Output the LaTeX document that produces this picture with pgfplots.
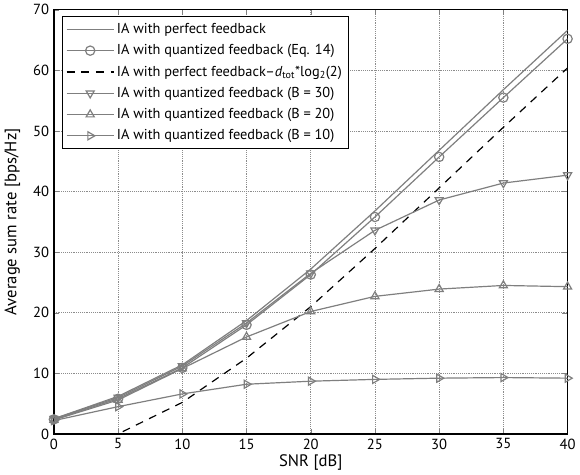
\documentclass[border=0pt]{standalone}
\usepackage{fontspec}
\setmainfont{PT Sans}
\usepackage{pgfplots}
\pgfplotsset{compat=1.18}
\definecolor{lgray}{HTML}{7F7F7F}

\begin{document}
\begin{tikzpicture}
\begin{axis}[
  width=386pt, height=318.75pt, scale only axis,
  xmin=0, xmax=40, ymin=0, ymax=70,
  xtick={0,5,...,40}, ytick={0,10,...,70},
  xlabel={SNR [dB]}, ylabel={Average sum rate [bps/Hz]},
  label style={font=\fontsize{12.5}{14}\selectfont},
  tick label style={font=\fontsize{11}{12}\selectfont},
  /pgf/number format/assume math mode=true,
  xlabel style={yshift=3pt}, ylabel style={yshift=3pt},
  tick align=inside, major tick length=4pt,
  axis line style={line width=1pt},
  grid=major, major grid style={densely dotted, black!45, line width=0.5pt},
  legend cell align=left,
  legend style={at={(0.015,0.985)}, anchor=north west, font=\fontsize{10.8}{12.5}\selectfont,
    draw=black, line width=0.8pt, row sep=2.8pt, inner sep=3pt},
  legend image code/.code={\draw[mark repeat=2,mark phase=2] plot coordinates {(0cm,0cm)(0.62cm,0cm)(1.24cm,0cm)};},
  every axis plot/.append style={line width=0.9pt, mark size=3.5pt, mark options={solid, fill=white}},
  clip=true,
]
\addplot[lgray] coordinates {(0,2.5)(5,6.2)(10,11.4)(15,18.7)(20,27.2)(25,36.8)(30,46.8)(35,56.8)(40,66.6)};
\addlegendentry{IA with perfect feedback}
\addplot[lgray, mark=o] coordinates {(0,2.4)(5,5.8)(10,10.9)(15,18.0)(20,26.3)(25,35.8)(30,45.7)(35,55.5)(40,65.2)};
\addlegendentry{IA with quantized feedback (Eq. 14)}
\addplot[black, dashed, dash pattern=on 6pt off 5pt] coordinates {(0,-3.7)(5,0)(10,5.2)(15,12.5)(20,21.0)(25,30.6)(30,40.6)(35,50.6)(40,60.4)};
\addlegendentry{IA with perfect feedback--\textit{d}\textsubscript{tot}*log\textsubscript{2}(2)}
\addplot[lgray, mark=triangle, mark options={rotate=180}] coordinates {(0,2.5)(5,6.0)(10,11.2)(15,18.3)(20,26.5)(25,33.6)(30,38.6)(35,41.4)(40,42.7)};
\addlegendentry{IA with quantized feedback (B = 30)}
\addplot[lgray, mark=triangle] coordinates {(0,2.3)(5,5.6)(10,10.8)(15,16.0)(20,20.2)(25,22.7)(30,23.9)(35,24.5)(40,24.3)};
\addlegendentry{IA with quantized feedback (B = 20)}
\addplot[lgray, mark=triangle, mark options={rotate=-90}] coordinates {(0,2.2)(5,4.5)(10,6.6)(15,8.2)(20,8.7)(25,9.0)(30,9.2)(35,9.3)(40,9.2)};
\addlegendentry{IA with quantized feedback (B = 10)}
\end{axis}
\end{tikzpicture}
\end{document}
